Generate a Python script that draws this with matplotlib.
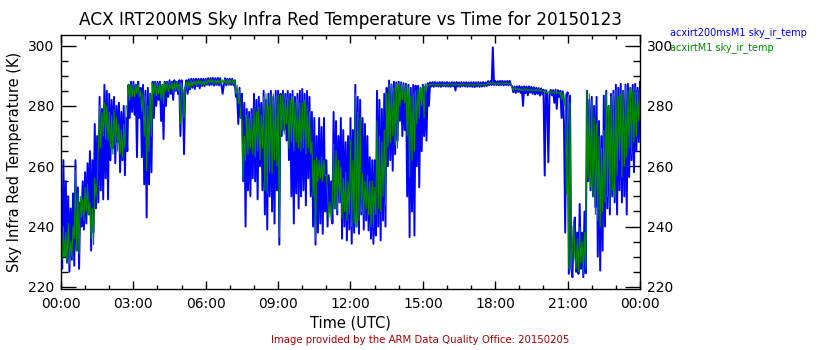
import numpy as np
import matplotlib
matplotlib.use("Agg")
import matplotlib.pyplot as plt
from matplotlib.ticker import MultipleLocator, FuncFormatter

# Sky IR temperature (K), one value every 3 minutes (0.05 h), 00:00 to 24:00 UTC
# one row per hour
irt200ms = [
    240, 226, 262, 230, 255, 228, 250, 225, 246, 229, 251, 227, 262, 232, 253, 226, 248, 240, 255, 239,
    258, 241, 261, 244, 265, 232, 262, 238, 274, 246, 270, 248, 283, 252, 279, 249, 287, 256, 285, 249,
    284, 262, 282, 266, 283, 261, 280, 268, 281, 258, 278, 262, 280, 257, 276, 265, 287, 276, 288, 278,
    288, 277, 287, 263, 288, 276, 286, 263, 287, 254, 285, 243, 286, 254, 284, 258, 288, 276, 288, 280,
    288, 282, 288, 275, 287, 269, 288, 280, 288, 283, 288.5, 284, 288, 282, 288.5, 285, 288, 284, 288.5, 270,
    288.5, 284, 264, 286, 288.5, 284, 288.8, 285.5, 289, 286, 289, 285.6, 289, 286.5, 289, 285.8, 289, 286.6, 289, 286.5,
    289, 287, 289.2, 286.8, 289.2, 287, 289.3, 286.7, 289.2, 287, 289.3, 286.8, 289.2, 286.9, 284, 287, 289.2, 286.8, 289, 287,
    289, 287, 289, 286.8, 288.5, 283, 284, 274, 286, 276, 284, 255, 281, 240, 279, 252, 278, 250, 279, 256,
    284, 255, 282, 249, 283, 260, 281, 252, 285, 244, 282, 239, 284, 250, 285, 245, 283, 241, 285, 252,
    285, 234, 284, 270, 285, 272, 284, 268.5, 285, 262, 284, 250, 285, 241, 283, 251, 284, 246, 285, 250,
    285.6, 252, 284, 247, 285, 256, 283, 250, 278, 240, 276, 234, 270, 238, 276, 241, 273, 237.6, 276, 245,
    262, 240, 257, 245, 255, 241, 278, 246, 275, 244, 270, 248, 276, 236, 272, 240, 268, 235.4, 270, 239,
    276, 234.3, 272, 238, 287, 240, 283, 237.6, 282, 244, 276, 239, 274, 242, 270, 238.7, 263, 236, 262, 234.3,
    262, 237, 285, 240, 282, 235.4, 279, 242, 284, 240, 286, 260, 288.4, 262, 287, 258.5, 288, 264, 287.8, 268.5,
    288, 275, 287.8, 270, 287.5, 272, 287.3, 250, 287, 236.5, 286, 245, 287, 237, 286.7, 260, 286.7, 253, 286, 265,
    287, 270, 286.5, 268.5, 287.5, 280, 287.8, 286.4, 287.9, 286.3, 287.9, 286.5, 287.8, 286.4, 287.9, 286.3, 287.9, 286.5, 287.8, 286.4,
    287.9, 286.4, 287.8, 286.3, 287.9, 286.5, 287.8, 285.1, 287.9, 286.4, 287.8, 286.3, 287.9, 286.5, 287.8, 286.4, 287.9, 286.3, 287.8, 286.4,
    287.8, 286.3, 287.9, 286.2, 287.8, 286.4, 287.9, 286.3, 287.8, 286.4, 287.9, 286.5, 287.8, 286.6, 288.2, 286.8, 288.2, 286.9, 299.4, 286.9,
    288.3, 286.9, 288.2, 286.8, 288.3, 286.9, 288.3, 286.8, 288.2, 286.9, 288.3, 286.8, 288.3, 286.9, 286.5, 284.5, 286.4, 284.3, 286.5, 284.6,
    286.6, 284.3, 286.4, 280.0, 286.5, 284.2, 286.4, 283.5, 286.5, 284.4, 286.3, 284.0, 286.2, 283.8, 286.0, 284.0, 285.9, 283.4, 285.8, 283.8,
    285.4, 256.9, 285.2, 284.0, 261.3, 284.0, 285.3, 283.5, 285.2, 281.0, 285.4, 279.0, 285.2, 283.0, 285.0, 276.0, 284.8, 274.0, 238.0, 283.0,
    284.5, 224.3, 283.4, 226, 223.2, 240, 243, 225, 238, 224.3, 247.5, 226, 238, 223.2, 245, 224.5, 285, 255, 282, 252,
    283, 250, 280, 246.4, 283, 230, 275, 225.4, 270, 232, 283.4, 240, 285, 246, 280, 244, 284, 250, 285, 248,
    287, 244, 286, 252, 287.3, 248, 285, 250, 287, 244, 287.3, 256.4, 286, 262, 287, 258, 287.3, 265, 286, 268,
    288,
]

irtm1 = [
    236, 229, 240, 230, 238, 228, 241, 227.6, 235, 230, 240, 236, 258.6, 232, 251, 231, 250, 243, 249, 242,
    253, 245, 254, 244, 248, 236, 246, 234, 256, 250, 255, 266, 280, 266, 278, 270, 281, 269, 280, 268.5,
    278, 266, 277, 264, 278.5, 267, 276, 265, 274, 264, 272, 263, 274, 266, 280, 279.6, 287, 282, 287.3, 283,
    287, 283, 287.3, 284, 287, 283, 285, 278, 284, 270, 283, 258.5, 280, 265, 284, 270, 287.5, 284, 287.8, 283.4,
    287.5, 284, 287.8, 282, 287, 280.7, 287.8, 285, 287.8, 284.5, 287.6, 285.5, 287.8, 284.5, 287.8, 285, 287.8, 285, 287.5, 274,
    287.5, 285, 276, 286, 288, 285.5, 288.2, 286, 288.4, 286.7, 288.4, 287, 288.4, 286.8, 288.4, 287, 288.4, 286.8, 288.4, 287,
    288.7, 287.3, 288.7, 287.5, 288.7, 287.4, 288.7, 287.3, 288.6, 287.5, 288.7, 287.4, 288.7, 287.3, 288.6, 287.5, 288.7, 287.4, 288.7, 287.3,
    288.7, 287.4, 288.6, 287.3, 288.5, 284, 287, 280.7, 285, 276, 276, 255, 270, 262, 277, 264, 276, 266, 277.4, 264,
    279, 263, 278, 265, 279.6, 262, 277, 266, 283, 252, 284, 250.8, 280, 258, 283.5, 257.5, 284, 262, 283, 260,
    283.5, 236.5, 283.5, 272, 284, 270.7, 283, 274, 283, 266, 282, 268, 283, 265, 281, 268, 282, 266, 281, 265,
    281, 266, 281.8, 264, 280, 266, 278, 264, 268, 250, 262, 235.4, 263, 255, 262, 256, 263, 255, 262, 257,
    257, 250.8, 243, 248, 242, 250, 267.3, 246, 265, 245.3, 262, 248, 259.7, 243, 256, 245, 258, 242, 255, 244,
    268.5, 240, 262, 241, 284, 239.8, 278, 242, 276, 245, 257.5, 244, 255, 246, 257, 244, 255, 240, 255.2, 239.8,
    253, 244, 275, 246, 270, 245, 268, 250, 272, 247, 284, 266.3, 287, 268, 287.3, 270, 286, 267, 287.3, 266,
    287.3, 280, 287.5, 282, 287, 281, 287.3, 270, 286, 256.4, 283, 262, 284, 265, 285, 274, 285.5, 276, 286, 280,
    286.5, 276, 287.3, 285, 287.2, 286.8, 287.3, 286.8, 287.3, 286.9, 287.3, 286.8, 287.2, 286.8, 287.3, 286.8, 287.3, 286.9, 287.2, 286.8,
    287.3, 286.8, 287.3, 286.9, 287.2, 286.8, 287.3, 286.7, 287.3, 286.8, 287.2, 286.8, 287.3, 286.8, 287.3, 286.9, 287.2, 286.8, 287.3, 286.8,
    287.3, 286.8, 287.2, 286.8, 287.3, 286.9, 287.3, 286.8, 287.2, 286.8, 287.3, 286.8, 287.3, 287.0, 287.6, 287.2, 287.6, 287.2, 287.7, 287.2,
    287.6, 287.2, 287.6, 287.2, 287.7, 287.2, 287.6, 287.2, 287.6, 287.3, 287.6, 287.2, 287.6, 287.2, 286.0, 285.2, 286.0, 285.4, 285.9, 285.2,
    285.8, 285.0, 285.6, 285.0, 285.7, 285.1, 285.6, 285.0, 285.5, 285.0, 285.6, 284.9, 285.5, 285.0, 285.4, 284.9, 285.4, 284.8, 285.3, 284.8,
    284.8, 284.2, 284.8, 284.2, 284.7, 284.2, 284.8, 284.1, 284.7, 284.2, 284.8, 284.2, 284.7, 284.1, 284.5, 282.0, 284.0, 280.0, 284.0, 250.8,
    283, 226, 281, 225.4, 232, 241.8, 230, 226, 236, 225, 239.8, 228, 235, 224.3, 238, 226, 285, 256, 284, 253,
    281.8, 250, 276, 244, 274, 242, 270, 239.8, 266, 245, 272, 248, 284, 250, 280, 246.4, 283, 252, 284, 250,
    285, 257, 283, 262, 284, 256.4, 285, 260, 286, 263, 285, 266, 286, 264, 285, 268, 286, 270, 285, 275,
    285,
]

hours = np.arange(len(irt200ms)) * 0.05

fig = plt.figure(figsize=(8.4, 3.5), dpi=100)
ax = fig.add_axes([0.0726, 0.1743, 0.6893, 0.7257])

ax.plot(hours, irt200ms, color="#0000ff", linewidth=1.4)
ax.plot(hours, irtm1, color="#008c00", linewidth=0.8)

ax.set_xlim(0, 24)
ax.set_ylim(219.3, 303.5)

# ticks on all four sides, pointing inward
ax.xaxis.set_major_locator(MultipleLocator(3))
ax.xaxis.set_minor_locator(MultipleLocator(1))
ax.yaxis.set_major_locator(MultipleLocator(20))
ax.yaxis.set_minor_locator(MultipleLocator(5))
ax.xaxis.set_major_formatter(FuncFormatter(lambda v, p: "%02d:00" % (int(round(v)) % 24)))
ax.tick_params(axis="x", which="major", direction="in", length=6, width=1,
               top=True, labelsize=10, pad=6)
ax.tick_params(axis="x", which="minor", direction="in", length=3, width=1, top=True)
ax.tick_params(axis="y", which="major", direction="in", length=11, width=1,
               right=True, labelright=True, labelsize=10, pad=5)
ax.tick_params(axis="y", which="minor", direction="in", length=5, width=1, right=True)
for s in ax.spines.values():
    s.set_linewidth(1.0)

ax.set_xlabel("Time (UTC)", fontsize=10.5, labelpad=3)
ax.set_ylabel("Sky Infra Red Temperature (K)", fontsize=10.5, labelpad=4)
ax.set_title("ACX IRT200MS Sky Infra Red Temperature vs Time for 20150123",
             fontsize=12.2, pad=7)

# series names at the upper right
fig.text(0.798, 0.906, "acxirt200msM1 sky_ir_temp", color="#0000ff",
         fontsize=7, va="center", ha="left")
fig.text(0.798, 0.863, "acxirtM1 sky_ir_temp", color="#008c00",
         fontsize=7, va="center", ha="left")

fig.text(0.5, 0.015, "Image provided by the ARM Data Quality Office: 20150205",
         color="#aa0000", fontsize=7.3, ha="center", va="bottom")

plt.savefig("out.png", dpi=100)
